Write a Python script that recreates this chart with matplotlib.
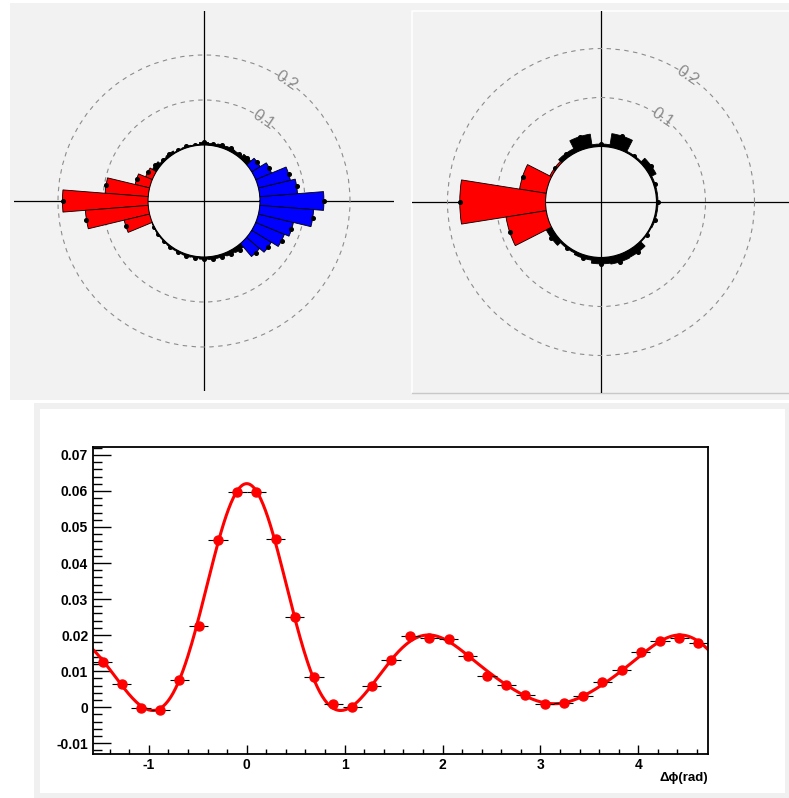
import numpy as np
import matplotlib.pyplot as plt
from matplotlib.patches import Rectangle
from matplotlib.lines import Line2D
from matplotlib.ticker import MultipleLocator, FuncFormatter

plt.rcParams['font.family'] = ['Liberation Sans', 'DejaVu Sans']

### DATA

# left polar histogram (40 bins of 9 deg), value above the base circle
left_theta_deg = [0, 9, 18, 27, 36, 45, 54, 63, 72, 81,
                  90, 99, 108, 117, 126, 135, 144, 153, 162, 171,
                  180, 189, 198, 207, 216, 225, 234, 243, 252, 261,
                  270, 279, 288, 297, 306, 315, 324, 333, 342, 351]
left_value = [0.142, 0.084, 0.073, 0.038, 0.022, 0.012, 0.006, 0.007, 0.006, 0.004,
              0.006, 0.002, 0.003, 0.002, 0.006, 0.004, 0.010, 0.016, 0.033, 0.096,
              0.190, 0.140, 0.058, 0.001, 0.002, 0.002, 0.003, 0.003, 0.004, 0.003,
              0.005, 0.006, 0.006, 0.008, 0.010, 0.038, 0.051, 0.069, 0.080, 0.120]
left_side = ['near'] * 5 + [''] * 12 + ['away'] * 6 + [''] * 12 + ['near'] * 5

# right polar histogram (20 bins of 18 deg)
right_theta_deg = [0, 18, 36, 54, 72, 90, 108, 126, 144, 162,
                   180, 198, 216, 234, 252, 270, 288, 306, 324, 342]
right_value = [0.003, 0.003, 0.013, 0.003, 0.028, 0.005, 0.027, 0.009, 0.004, 0.055,
               0.175, 0.083, 0.012, 0.004, 0.007, 0.013, 0.015, 0.014, 0.002, 0.003]
right_side = [''] * 8 + ['away'] * 4 + [''] * 8

# delta phi distribution
dphi = [-1.4726, -1.2763, -1.0799, -0.8836, -0.6872, -0.4909, -0.2945, -0.0982,
        0.0982, 0.2945, 0.4909, 0.6872, 0.8836, 1.0799, 1.2763, 1.4726,
        1.6690, 1.8653, 2.0617, 2.2580, 2.4544, 2.6507, 2.8471, 3.0434,
        3.2398, 3.4361, 3.6325, 3.8288, 4.0252, 4.2215, 4.4179, 4.6142]
dphi_yield = [0.0126, 0.0065, -0.0001, -0.0009, 0.0074, 0.0226, 0.0463, 0.0596,
              0.0596, 0.0466, 0.0251, 0.0085, 0.0008, 0.0000, 0.0059, 0.0131,
              0.0198, 0.0193, 0.0189, 0.0142, 0.0086, 0.0062, 0.0033, 0.0010,
              0.0012, 0.0030, 0.0070, 0.0102, 0.0152, 0.0184, 0.0192, 0.0178]
dphi_err = [0.0009, 0.0008, 0.0007, 0.0007, 0.0008, 0.0008, 0.0008, 0.0008,
            0.0008, 0.0008, 0.0008, 0.0008, 0.0007, 0.0007, 0.0008, 0.0009,
            0.0009, 0.0009, 0.0008, 0.0008, 0.0008, 0.0007, 0.0007, 0.0007,
            0.0007, 0.0007, 0.0007, 0.0008, 0.0008, 0.0008, 0.0009, 0.0009]
dphi_halfwidth = 0.0982

### LAYOUT

W, H = 789, 798
fig = plt.figure(figsize=(W / 100, H / 100), dpi=100)

def box(x0, y0, x1, y1):
    # pixel box (top-left origin) -> figure fraction
    return [x0 / W, 1 - y1 / H, (x1 - x0) / W, (y1 - y0) / H]

def fig_rect(x0, y0, x1, y1, color):
    b = box(x0, y0, x1, y1)
    fig.add_artist(Rectangle((b[0], b[1]), b[2], b[3], transform=fig.transFigure,
                             facecolor=color, edgecolor='none', zorder=-10))

def fig_line(xs, ys, color, lw=1):
    fig.add_artist(Line2D([x / W for x in xs], [1 - y / H for y in ys],
                          transform=fig.transFigure, color=color, lw=lw, zorder=-5))

GREY = '#f2f2f2'
fig_rect(10, 3, 789, 400, GREY)
fig_line([412, 412, 789], [393, 11, 11], 'white', 1.2)
fig_line([412, 789], [393, 393], '#c8c8c8', 1.0)
fig_rect(34, 403, 789, 798, '#f0f0f0')
fig_rect(40, 409, 785, 793, 'white')

colors = {'near': '#0000ff', 'away': '#ff0000', '': 'black'}

def polar_panel(cross_box, cross_lim, polar_box, theta_deg, values, side,
                r_base, r_max, bin_deg):
    # cross lines behind
    axc = fig.add_axes(box(*cross_box))
    axc.set_xlim(cross_lim[0], cross_lim[1])
    axc.set_ylim(cross_lim[2], cross_lim[3])
    axc.axhline(0, color='black', lw=0.9)
    axc.axvline(0, color='black', lw=0.9)
    axc.axis('off')

    ax = fig.add_axes(box(*polar_box), projection='polar')
    ax.patch.set_alpha(0)
    for s in ax.spines.values():
        s.set_visible(False)
    ax.set_rorigin(-r_base)
    ax.set_ylim(0, r_max)
    ax.set_xticks([])
    ax.set_yticks([0.1, 0.2])
    ax.set_yticklabels([])
    ax.yaxis.grid(True, color='#8c8c8c', lw=0.8, ls=(0, (4, 4)))
    ax.tick_params(axis='y', length=0)

    th = np.deg2rad(theta_deg)
    ring = np.linspace(0, 2 * np.pi, 361)
    ax.plot(ring, np.zeros_like(ring), color='#666666', lw=1.0, zorder=2)
    ax.bar(th, values, width=np.deg2rad(bin_deg), bottom=0,
           color=[colors[s] for s in side], edgecolor='black', lw=0.6, zorder=3)
    ax.plot(th, values, 'o', color='black', ms=2.6, zorder=4)

    for r, ang in [(0.1, 54), (0.2, 55.5)]:
        ax.text(np.deg2rad(ang), r, f'{r:.1f}', rotation=-34, color='#8c8c8c',
                fontsize=12, ha='center', va='center', zorder=5)

polar_panel((14, 11, 394, 391), (-1, 1, -1, 1), (14, 11, 394, 391),
            left_theta_deg, left_value, left_side, 56 / 450, 190 / 450 - 56 / 450, 9)
polar_panel((412, 11, 789, 393), (-189, 188, -191, 191), (411, 12, 791, 392),
            right_theta_deg, right_value, right_side, 55.5 / 490, 190 / 490 - 55.5 / 490, 18)

### DELTA PHI PLOT

ax = fig.add_axes(box(93, 447, 708, 754))
x = np.array(dphi)
y = np.array(dphi_yield)

# cosine series fit to the points
order = 8
A = np.column_stack([np.cos(n * x) for n in range(order)])
coef, *_ = np.linalg.lstsq(A, y, rcond=None)
xf = np.linspace(-np.pi / 2, 3 * np.pi / 2, 500)
yf = np.column_stack([np.cos(n * xf) for n in range(order)]) @ coef
ax.plot(xf, yf, color='#ff0000', lw=2.2, zorder=2)

ax.errorbar(x, y, xerr=dphi_halfwidth, yerr=dphi_err, fmt='o', color='#ff0000',
            ms=6.5, ecolor='black', elinewidth=0.8, capsize=0, zorder=3)

ax.set_xlim(-np.pi / 2, 3 * np.pi / 2)
ax.set_ylim(-0.013, 0.0722)
ax.xaxis.set_major_locator(MultipleLocator(1))
ax.xaxis.set_minor_locator(MultipleLocator(0.2))
ax.yaxis.set_major_locator(MultipleLocator(0.01))
ax.yaxis.set_minor_locator(MultipleLocator(0.002))
ax.yaxis.set_major_formatter(FuncFormatter(lambda v, p: f'{round(v, 3):g}'))
ax.xaxis.set_major_formatter(FuncFormatter(lambda v, p: f'{round(v):d}'))
ax.tick_params(which='both', direction='in', top=False, right=False, color='black')
ax.tick_params(axis='y', which='major', length=13, width=1.0, pad=3.5)
ax.tick_params(axis='y', which='minor', length=6.5, width=1.0)
ax.tick_params(axis='x', which='major', length=6.7, width=1.0, pad=3)
ax.tick_params(axis='x', which='minor', length=3.3, width=1.0)
for lab in ax.get_xticklabels() + ax.get_yticklabels():
    lab.set_fontweight('bold')
    lab.set_fontsize(10)
for s in ax.spines.values():
    s.set_linewidth(1.3)
ax.text(1.0, -0.058, 'Δϕ(rad)', transform=ax.transAxes, ha='right', va='top',
        fontsize=9.5, fontweight='bold')

plt.savefig('out.png', dpi=100)
